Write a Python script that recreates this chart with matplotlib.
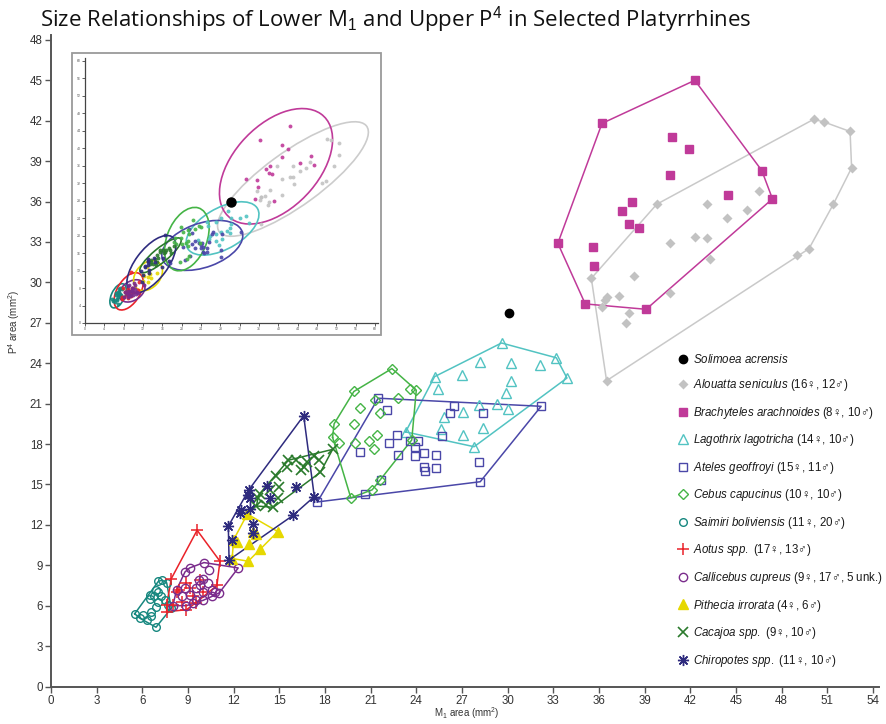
import numpy as np
import matplotlib
matplotlib.use('Agg')
import matplotlib.pyplot as plt
from matplotlib.lines import Line2D
from matplotlib.patches import Ellipse, Rectangle

plt.rcParams['font.family'] = ['Liberation Sans', 'DejaVu Sans']
plt.rcParams['mathtext.fontset'] = 'custom'
plt.rcParams['mathtext.rm'] = 'Liberation Sans'
plt.rcParams['mathtext.it'] = 'Liberation Sans:italic'
plt.rcParams['mathtext.bf'] = 'Liberation Sans:bold'

# ---------------- data (M1 area, P4 area in mm^2) ----------------
solimoea_x = [30.1]
solimoea_y = [27.7]

alouatta_x = [50.1, 50.8, 52.5, 52.6, 51.4, 49.8, 49.0, 46.5, 45.7, 44.4, 43.1, 42.3, 43.1,
              43.3, 40.7, 39.8, 38.3, 40.7, 37.3, 36.5, 36.4, 36.2, 35.5, 38.0, 37.8, 36.5]
alouatta_y = [42.1, 41.9, 41.2, 38.5, 35.8, 32.5, 32.0, 36.8, 35.4, 34.8, 35.8, 33.4, 33.3,
              31.7, 32.9, 35.8, 30.5, 29.2, 29.0, 28.9, 28.7, 28.2, 30.3, 27.7, 27.0, 22.7]

brachyteles_x = [42.3, 36.2, 40.8, 41.9, 40.7, 46.7, 47.4, 44.5, 38.2, 37.5, 38.0, 38.6,
                 33.3, 35.6, 35.7, 35.1, 39.1]
brachyteles_y = [45.0, 41.8, 40.8, 39.9, 38.0, 38.3, 36.2, 36.5, 36.0, 35.3, 34.3, 34.0,
                 32.9, 32.6, 31.2, 28.4, 28.0]

lagothrix_x = [29.6, 33.2, 33.9, 32.1, 30.2, 28.2, 27.0, 25.2, 25.4, 30.2, 29.9, 29.3, 30.0,
               28.1, 27.1, 25.8, 28.4, 25.6, 27.1, 27.8, 23.3]
lagothrix_y = [25.5, 24.4, 22.9, 23.9, 24.0, 24.1, 23.1, 23.0, 22.1, 22.7, 21.8, 21.0, 20.6,
               20.9, 20.4, 20.0, 19.2, 19.1, 18.7, 17.8, 18.9]

ateles_x = [21.5, 22.1, 26.5, 26.2, 28.4, 32.2, 25.7, 22.7, 22.2, 23.6, 24.1, 23.9, 20.3,
            22.8, 23.9, 24.5, 25.3, 28.1, 24.5, 24.6, 25.3, 21.7, 28.2, 20.6, 17.5]
ateles_y = [21.4, 20.5, 20.8, 20.3, 20.3, 20.8, 18.6, 18.7, 18.1, 18.2, 18.2, 17.8, 17.4,
            17.2, 17.1, 17.3, 17.2, 16.7, 16.3, 16.0, 16.2, 15.3, 15.2, 14.3, 13.7]

cebus_x = [22.4, 23.6, 24.0, 22.8, 21.3, 19.9, 20.3, 21.6, 18.6, 19.9, 21.4, 18.5, 18.9,
           20.0, 20.9, 21.2, 23.7, 21.6, 21.1, 19.7]
cebus_y = [23.6, 22.1, 22.0, 21.4, 21.3, 21.9, 20.7, 20.3, 19.5, 19.5, 18.7, 18.5, 18.1,
           18.1, 18.2, 17.6, 18.3, 15.3, 14.6, 14.0]

saimiri_x = [7.05, 7.6, 6.5, 6.8, 7.2, 6.5, 7.05, 7.5, 7.7, 6.9, 6.6, 6.06, 5.5, 5.85,
             6.3, 6.55, 6.9, 7.9, 7.3, 6.9, 7.0]
saimiri_y = [7.8, 7.7, 6.8, 6.7, 6.7, 6.5, 6.3, 6.4, 6.05, 5.9, 5.55, 5.3, 5.4, 5.06,
             4.9, 5.2, 4.4, 5.8, 7.9, 7.2, 7.0]

aotus_x = [9.6, 11.1, 7.9, 7.6, 8.9, 10.9, 8.9, 8.3, 8.0, 8.6, 9.35, 10.0, 9.8, 9.1, 8.4,
           7.6, 9.5]
aotus_y = [11.6, 9.3, 8.0, 5.55, 5.7, 7.5, 7.7, 7.0, 6.05, 6.3, 6.7, 7.0, 7.9, 7.3, 7.2,
           6.05, 6.2]

callicebus_x = [10.05, 12.3, 11.06, 8.8, 8.26, 8.6, 8.9, 9.7, 10.0, 9.8, 10.3, 9.5, 10.0,
                9.5, 10.6, 8.8, 9.1, 10.4, 9.1, 10.0, 10.6, 8.0, 9.3, 10.8]
callicebus_y = [9.2, 8.8, 6.96, 8.5, 7.2, 6.7, 6.0, 7.9, 8.0, 7.5, 7.7, 7.3, 7.0,
                6.4, 7.2, 7.3, 6.8, 8.65, 8.8, 6.4, 6.7, 6.0, 6.2, 7.0]

pithecia_x = [12.9, 13.3, 14.9, 12.2, 13.0, 13.7, 11.9, 12.96, 13.5, 12.0]
pithecia_y = [12.8, 11.5, 11.5, 10.7, 10.6, 10.2, 9.5, 9.3, 11.3, 10.9]

cacajao_x = [18.5, 17.3, 17.6, 16.8, 16.1, 15.6, 16.6, 16.4, 15.5, 17.7, 15.0, 14.4, 14.9,
             14.1, 14.6, 13.6, 13.5, 14.8, 13.7]
cacajao_y = [17.6, 17.1, 16.8, 16.7, 16.8, 16.8, 16.3, 16.1, 16.3, 15.9, 14.8, 14.6, 14.0,
             13.5, 13.3, 14.0, 13.4, 15.6, 14.3]

chiropotes_x = [16.6, 13.0, 12.96, 13.1, 16.1, 17.3, 15.9, 12.5, 13.1, 11.65, 13.3, 11.9,
                13.3, 11.7, 14.2, 12.4, 14.4]
chiropotes_y = [20.1, 14.6, 14.2, 14.0, 14.8, 14.1, 12.7, 13.1, 13.2, 11.9, 12.1, 10.9,
                11.4, 9.4, 14.9, 12.9, 14.0]

legend_labels = [
    r'$\mathit{Solimoea\ acrensis}$',
    r'$\mathit{Alouatta\ seniculus}$ (16♀, 12♂)',
    r'$\mathit{Brachyteles\ arachnoides}$ (8♀, 10♂)',
    r'$\mathit{Lagothrix\ lagotricha}$ (14♀, 10♂)',
    r'$\mathit{Ateles\ geoffroyi}$ (15♀, 11♂)',
    r'$\mathit{Cebus\ capucinus}$ (10♀, 10♂)',
    r'$\mathit{Saimiri\ boliviensis}$ (11♀, 20♂)',
    r'$\mathit{Aotus\ spp.}$ (17♀, 13♂)',
    r'$\mathit{Callicebus\ cupreus}$ (9♀, 17♂, 5 unk.)',
    r'$\mathit{Pithecia\ irrorata}$ (4♀, 6♂)',
    r'$\mathit{Cacajoa\ spp.}$ (9♀, 10♂)',
    r'$\mathit{Chiropotes\ spp.}$ (11♀, 10♂)',
]
x_ticks = list(range(0, 55, 3))
y_ticks = list(range(0, 49, 3))
inset_ticks = list(range(0, 61, 4))

# ---------------- styles ----------------
series = [
    # x, y, color, hull color, marker, size, filled, mew
    (solimoea_x, solimoea_y, '#000000', None, 'o', 6, True, 1.0),
    (alouatta_x, alouatta_y, '#c2c2c2', '#c9c9c9', 'D', 4.6, True, 1.0),
    (brachyteles_x, brachyteles_y, '#c03a99', '#c03a99', 's', 6.3, True, 1.0),
    (lagothrix_x, lagothrix_y, '#52c3c2', '#52c3c2', '^', 7, False, 1.0),
    (ateles_x, ateles_y, '#4a47a8', '#4a47a8', 's', 6.3, False, 1.0),
    (cebus_x, cebus_y, '#45b446', '#45b446', 'D', 4.6, False, 1.0),
    (saimiri_x, saimiri_y, '#16877f', '#16877f', 'o', 5.5, False, 1.0),
    (aotus_x, aotus_y, '#ea2229', '#ea2229', '+', 8, False, 1.1),
    (callicebus_x, callicebus_y, '#7a2c8c', '#7a2c8c', 'o', 6, False, 1.0),
    (pithecia_x, pithecia_y, '#e6d800', '#e6d800', '^', 6.5, True, 1.0),
    (cacajao_x, cacajao_y, '#2a7a2c', '#2a7a2c', 'x', 6.5, False, 1.2),
    (chiropotes_x, chiropotes_y, '#2e2b7e', '#2e2b7e', (8, 2, 0), 8, False, 1.0),
]


def convex_hull(xs, ys):
    pts = sorted(set(zip(xs, ys)))
    if len(pts) <= 2:
        return pts

    def cross(o, a, b):
        return (a[0] - o[0]) * (b[1] - o[1]) - (a[1] - o[1]) * (b[0] - o[0])
    lower = []
    for p in pts:
        while len(lower) >= 2 and cross(lower[-2], lower[-1], p) <= 0:
            lower.pop()
        lower.append(p)
    upper = []
    for p in reversed(pts):
        while len(upper) >= 2 and cross(upper[-2], upper[-1], p) <= 0:
            upper.pop()
        upper.append(p)
    return lower[:-1] + upper[:-1]


def prediction_ellipse(ax, xs, ys, color, p=0.95):
    xs = np.asarray(xs, float)
    ys = np.asarray(ys, float)
    n = len(xs)
    m = n - 2
    f = (m / 2.0) * ((1 - p) ** (-2.0 / m) - 1)
    k = np.sqrt(2.0 * (n - 1) * (n + 1) / (n * (n - 2)) * f)
    cov = np.cov(xs, ys)
    vals, vecs = np.linalg.eigh(cov)
    order = vals.argsort()[::-1]
    vals, vecs = vals[order], vecs[:, order]
    angle = np.degrees(np.arctan2(vecs[1, 0], vecs[0, 0]))
    e = Ellipse((xs.mean(), ys.mean()), 2 * k * np.sqrt(vals[0]), 2 * k * np.sqrt(vals[1]),
                angle=angle, fill=False, edgecolor=color, lw=1.2)
    ax.add_patch(e)


W, H = 887, 724
fig = plt.figure(figsize=(W / 100, H / 100), dpi=100)
ax = fig.add_axes([51 / W, (H - 686.5) / H, (879 - 51) / W, (686.5 - 34.5) / H])
ax.set_xlim(0, 54.4)
ax.set_ylim(0, 48.4)

handles = []
for (xs, ys, col, hcol, mk, ms, filled, mew), lab in zip(series, legend_labels):
    if hcol is not None:
        hull = convex_hull(xs, ys)
        hx = [p[0] for p in hull] + [hull[0][0]]
        hy = [p[1] for p in hull] + [hull[0][1]]
        ax.plot(hx, hy, color=hcol, lw=1.1, zorder=2)
    kw = dict(marker=mk, markersize=ms, markeredgewidth=mew, linestyle='none')
    if filled:
        kw.update(markerfacecolor=col, markeredgecolor=col if mk != 'D' else 'none')
    else:
        kw.update(markerfacecolor='none', markeredgecolor=col)
    ax.plot(xs, ys, zorder=3, **kw)
    handles.append(Line2D([], [], label=lab, **kw))

for s in ['top', 'right']:
    ax.spines[s].set_visible(False)
for s in ['left', 'bottom']:
    ax.spines[s].set_color('#555555')
    ax.spines[s].set_linewidth(1.4)
ax.set_xticks(x_ticks)
ax.set_yticks(y_ticks)
ax.tick_params(direction='out', length=4, width=1, color='#555555',
               labelsize=8.3, labelcolor='#333333', pad=2)

leg = ax.legend(handles=handles, loc='upper left', bbox_to_anchor=(673 / W, 1 - 347 / H),
                bbox_transform=fig.transFigure, frameon=False, fontsize=8.3,
                handlelength=0.8, handletextpad=0.4, labelspacing=1.0, borderpad=0)
for t in leg.get_texts():
    t.set_color('#1a1a1a')

fig.text(40 / W, 1 - 20 / H,
         'Size Relationships of Lower M$_1$ and Upper P$^4$ in Selected Platyrrhines',
         fontsize=16, family=['Open Sans', 'DejaVu Sans'], va='center', ha='left',
         color='#111111')
fig.text(467 / W, 1 - 713 / H, r'M$_1$ area (mm$^2$)', fontsize=7, ha='center', va='center',
         color='#333333')
fig.text(14 / W, 1 - 322 / H, r'P$^4$ area (mm$^2$)', fontsize=7, ha='center', va='center',
         rotation=90, color='#333333')

# ---------------- inset ----------------
frame = Rectangle((72 / W, 1 - 335 / H), (381 - 72) / W, (335 - 53) / H,
                  transform=fig.transFigure, fill=False, edgecolor='#9a9a9a', lw=1.3)
fig.patches.append(frame)
axi = fig.add_axes([85 / W, 1 - 323 / H, (378 - 85) / W, (323 - 58) / H])
axi.set_xlim(0, 60.6)
axi.set_ylim(0, 60.6)
axi.set_xticks(inset_ticks)
axi.set_yticks(inset_ticks)
axi.tick_params(direction='out', length=2, width=0.6, labelsize=2.5, pad=1,
                color='#444444', labelcolor='#555555')
for s in ['top', 'right']:
    axi.spines[s].set_visible(False)
for s in ['left', 'bottom']:
    axi.spines[s].set_linewidth(0.9)
    axi.spines[s].set_color('#444444')
for (xs, ys, col, hcol, mk, ms, filled, mew) in series[1:]:
    prediction_ellipse(axi, xs, ys, col if col != '#c2c2c2' else '#cccccc')
for (xs, ys, col, hcol, mk, ms, filled, mew) in series[1:]:
    axi.plot(xs, ys, 'o', ms=2.8, color=col, mec='none', alpha=0.9)
axi.plot(solimoea_x, solimoea_y, 'o', ms=6.5, color='black')

fig.savefig('out.png', dpi=100)
